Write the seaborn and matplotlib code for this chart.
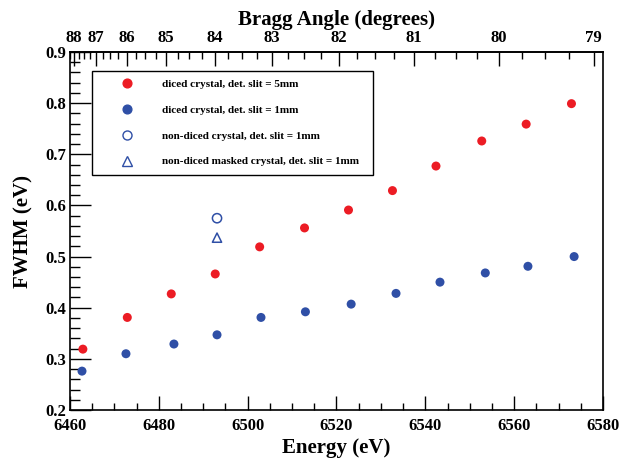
import numpy as np
import pandas as pd
import matplotlib
matplotlib.use("Agg")
import matplotlib.pyplot as plt
from matplotlib.lines import Line2D
from matplotlib.ticker import MultipleLocator, FixedLocator
import seaborn as sns

# FWHM of the analyser response versus photon energy
energy_5mm = [6462.9, 6472.9, 6482.8, 6492.7, 6502.7, 6512.8,
              6522.7, 6532.6, 6542.4, 6552.7, 6562.7, 6572.9]
fwhm_5mm = [0.319, 0.381, 0.427, 0.466, 0.519, 0.556,
            0.591, 0.629, 0.677, 0.726, 0.759, 0.799]

energy_1mm = [6462.7, 6472.6, 6483.4, 6493.1, 6503.0, 6513.0,
              6523.3, 6533.4, 6543.3, 6553.5, 6563.1, 6573.5]
fwhm_1mm = [0.276, 0.310, 0.329, 0.347, 0.381, 0.392,
            0.407, 0.428, 0.450, 0.468, 0.481, 0.500]

energy_nondiced = [6493.1]
fwhm_nondiced = [0.575]

energy_masked = [6493.1]
fwhm_masked = [0.537]

labels = ["diced crystal, det. slit = 5mm",
          "diced crystal, det. slit = 1mm",
          "non-diced crystal, det. slit = 1mm",
          "non-diced masked crystal, det. slit = 1mm"]

bragg_ticks = [88, 87, 86, 85, 84, 83, 82, 81, 80, 79]

RED = "#ec1c24"
BLUE = "#2f4fa6"

# Si(440): hc / 2d
E0 = 12398.42 / (2 * 5.4310 / np.sqrt(32))


def e_to_theta(e):
    e = np.asarray(e, dtype=float)
    r = np.clip(E0 / np.where(e == 0, 1e-9, e), -1, 1)
    return np.degrees(np.arcsin(r))


def theta_to_e(t):
    t = np.asarray(t, dtype=float)
    s = np.sin(np.radians(t))
    return E0 / np.where(np.abs(s) < 1e-9, 1e-9, s)


sns.set_style("ticks")
plt.rcParams["font.family"] = ["Liberation Serif", "DejaVu Serif"]
plt.rcParams["font.weight"] = "bold"
plt.rcParams["text.color"] = "black"
plt.rcParams["axes.labelcolor"] = "black"
plt.rcParams["xtick.color"] = "black"
plt.rcParams["ytick.color"] = "black"
plt.rcParams["axes.edgecolor"] = "black"

fig = plt.figure(figsize=(6.21, 4.63), dpi=100)
ax = fig.add_axes([70 / 621, 1 - 410 / 463, 533 / 621, 358 / 463])

df5 = pd.DataFrame({"E": energy_5mm, "F": fwhm_5mm})
df1 = pd.DataFrame({"E": energy_1mm, "F": fwhm_1mm})
dfn = pd.DataFrame({"E": energy_nondiced, "F": fwhm_nondiced})
dfm = pd.DataFrame({"E": energy_masked, "F": fwhm_masked})

sns.scatterplot(data=df5, x="E", y="F", ax=ax, color=RED, s=42,
                edgecolor="none", marker="o", zorder=3)
sns.scatterplot(data=df1, x="E", y="F", ax=ax, color=BLUE, s=42,
                edgecolor="none", marker="o", zorder=3)
sns.scatterplot(data=dfn, x="E", y="F", ax=ax, s=44, marker="o",
                facecolor="none", edgecolor=BLUE, linewidth=1.1, zorder=3)
sns.scatterplot(data=dfm, x="E", y="F", ax=ax, s=44, marker="^",
                facecolor="none", edgecolor=BLUE, linewidth=1.1, zorder=3)

ax.set_xlim(6460, 6580)
ax.set_ylim(0.2, 0.9)
ax.xaxis.set_major_locator(MultipleLocator(20))
ax.xaxis.set_minor_locator(MultipleLocator(5))
ax.yaxis.set_major_locator(MultipleLocator(0.1))
ax.yaxis.set_minor_locator(MultipleLocator(0.02))
ax.set_xticklabels([f"{v:.0f}" for v in ax.get_xticks()])
ax.set_yticklabels([f"{v:.1f}" for v in ax.get_yticks()])

ax.tick_params(axis="both", which="both", direction="in", width=1.0,
               labelsize=12, colors="black")
ax.tick_params(axis="x", which="major", length=10, pad=6)
ax.tick_params(axis="x", which="minor", length=5)
ax.tick_params(axis="y", which="major", length=15, pad=3)
ax.tick_params(axis="y", which="minor", length=7)
ax.tick_params(top=False, right=False)
for sp in ax.spines.values():
    sp.set_linewidth(1.2)
    sp.set_color("black")
    sp.set_visible(True)

ax.set_xlabel("Energy (eV)", fontsize=15, fontweight="bold", labelpad=3)
ax.set_ylabel("FWHM (eV)", fontsize=15, fontweight="bold", labelpad=8)

# Bragg angle scale along the top
sec = ax.secondary_xaxis("top", functions=(e_to_theta, theta_to_e))
sec.xaxis.set_major_locator(FixedLocator(bragg_ticks))
sec.xaxis.set_minor_locator(FixedLocator(np.arange(78.0, 89.01, 0.25)))
sec.set_xticklabels([str(t) for t in bragg_ticks])
sec.tick_params(axis="x", which="major", direction="in", length=10,
                width=1.0, labelsize=12, pad=4, colors="black")
sec.tick_params(axis="x", which="minor", direction="in", length=5, width=1.0)
sec.spines["top"].set_linewidth(1.2)
sec.set_xlabel("Bragg Angle (degrees)", fontsize=15, fontweight="bold",
               labelpad=4)

handles = [
    Line2D([], [], ls="none", marker="o", ms=6.3, mfc=RED, mec=RED),
    Line2D([], [], ls="none", marker="o", ms=6.3, mfc=BLUE, mec=BLUE),
    Line2D([], [], ls="none", marker="o", ms=6.5, mfc="none", mec=BLUE, mew=1.0),
    Line2D([], [], ls="none", marker="^", ms=6.5, mfc="none", mec=BLUE, mew=1.0),
]
leg = ax.legend(handles, labels, loc="upper left",
                bbox_to_anchor=(0.0407, 0.948, 0.5273, 0.0),
                mode="expand", prop={"size": 8, "weight": "bold"},
                frameon=True, fancybox=False, shadow=False, borderpad=0.75,
                labelspacing=1.45, handlelength=4.8, handletextpad=0.8,
                borderaxespad=0.0)
for t in leg.get_texts():
    t.set_color("black")
frame = leg.get_frame()
frame.set_edgecolor("black")
frame.set_linewidth(1.0)
frame.set_alpha(1.0)

fig.savefig("out.png", dpi=100)
